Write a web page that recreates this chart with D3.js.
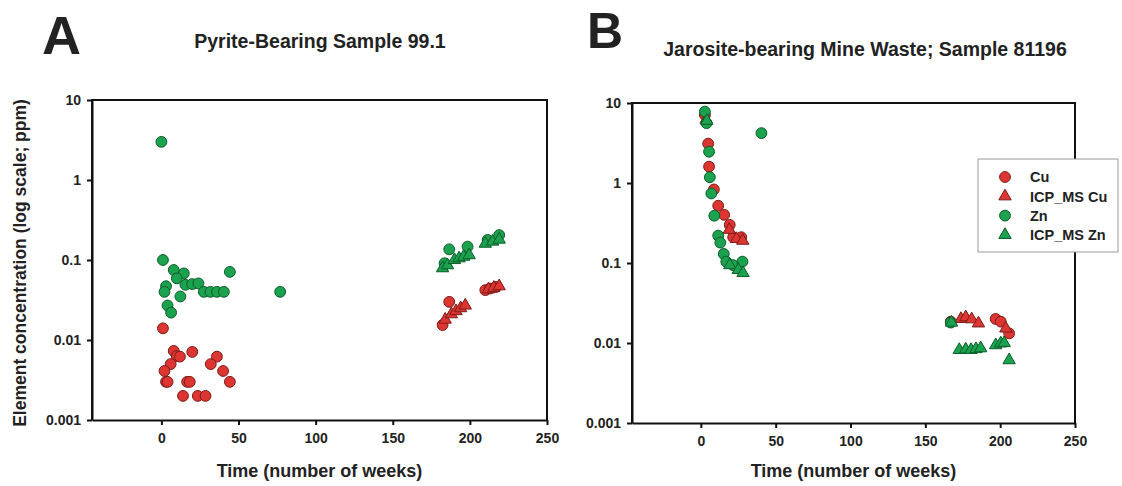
<!DOCTYPE html>
<meta charset="utf-8">
<script src="https://d3js.org/d3.v7.min.js"></script>
<style>
  body { margin: 0; background: #fff; }
  text { font-family: Arial, "Liberation Sans", sans-serif; font-weight: bold; fill: #222; }
</style>
<body>
<script>
// ---- data (weeks, ppm) ----
var yTicks = [0.001, 0.01, 0.1, 1, 10];
var yTickLabels = ["0.001", "0.01", "0.1", "1", "10"];
var xTicks = [0, 50, 100, 150, 200, 250];

// panel A: pyrite-bearing sample 99.1
var aCu = [[1,0.014],[8,0.0073],[10,0.0063],[12,0.0062],[20,0.0071],[36,0.0062],[32,0.005],[6,0.005],
  [2,0.0041],[40,0.0041],[3,0.003],[4,0.003],[16.7,0.003],[18.4,0.003],[44.4,0.003],[14,0.002],[23.6,0.002],[28.6,0.002],
  [182.3,0.0154],[186.6,0.030],[210,0.042],[213,0.044],[217,0.046]];
var aCuIcp = [[184,0.018],[188,0.021],[191,0.023],[194,0.025],[197,0.027],[212,0.043],[215.5,0.045],[219,0.047]];
var aZn = [[0,3.0],[1,0.1],[8,0.075],[14.5,0.068],[10,0.059],[3,0.047],[2,0.040],[15.6,0.049],[20,0.05],[24,0.051],
  [27.5,0.04],[31.8,0.04],[36,0.04],[40.5,0.04],[44.4,0.071],[12.3,0.035],[4,0.027],[6.3,0.022],[77,0.04],
  [183.6,0.091],[186.6,0.136],[198.5,0.147],[211.5,0.178],[219,0.205]];
var aZnIcp = [[182.3,0.079],[185.5,0.086],[190,0.1],[193,0.105],[196,0.11],[199.5,0.115],[210,0.16],[214.7,0.17],[219,0.18]];

// panel B: jarosite-bearing mine waste 81196
var bCu = [[2.7,7.1],[4.9,3.1],[5.5,1.6],[8.7,0.83],[11.6,0.52],[15.6,0.40],[19.3,0.30],[21.6,0.21],[27,0.21],
  [167,0.0185],[197,0.020],[200.4,0.0185],[206,0.0132]];
var bCuIcp = [[3.5,6.2],[19,0.26],[23.8,0.20],[28,0.19],[173.8,0.020],[177,0.021],[181,0.0198],[185.5,0.0176],[203.8,0.0152]];
var bZn = [[2.7,7.8],[3.8,5.6],[40.5,4.2],[5.5,2.46],[6,1.18],[7,0.74],[9,0.39],[11.6,0.22],[13,0.18],[15.3,0.13],
  [17,0.104],[21.6,0.094],[27.8,0.104],[167,0.018]];
var bZnIcp = [[4,6.0],[19.3,0.094],[25,0.082],[28.2,0.075],[167.5,0.018],[172.7,0.0082],[177,0.0083],[180.5,0.0082],
  [183.8,0.0084],[187,0.0086],[197,0.0094],[200.4,0.0099],[202.7,0.010],[206,0.0061]];

var legendLabels = ["Cu", "ICP_MS Cu", "Zn", "ICP_MS Zn"];

var red = {fill: "#dc3532", stroke: "#7c1c16"};
var green = {fill: "#1aa24e", stroke: "#0c5a2a"};

var svg = d3.select("body").append("svg")
    .attr("width", 1122)
    .attr("height", 486);

var circle = d3.symbol().type(d3.symbolCircle).size(92);
var triangle = d3.symbol().type(d3.symbolTriangle).size(66);

function panel(opts) {
  var x = d3.scaleLinear().domain([opts.xmin, 250]).range([opts.left, opts.right]);
  var y = d3.scaleLog().domain([0.001, 10]).range([opts.bottom, opts.top]);
  var g = svg.append("g");

  // frame
  g.append("path")
      .attr("fill", "none")
      .attr("stroke", "#111")
      .attr("stroke-width", 2)
      .attr("d", `M${opts.left},${opts.bottom}V${opts.top}H${opts.right}V${opts.bottom}`);

  g.append("g")
      .attr("transform", `translate(0,${opts.bottom})`)
      .call(d3.axisBottom(x).tickValues(xTicks).tickSize(5).tickSizeOuter(0).tickPadding(8))
      .call(a => a.select(".domain").attr("stroke", "#111").attr("stroke-width", 2))
      .call(a => a.selectAll(".tick line").attr("stroke", "#111").attr("stroke-width", 2))
      .call(a => a.selectAll("text").attr("font-size", 14).attr("font-family", null).attr("fill", null));

  g.append("g")
      .attr("transform", `translate(${opts.left},0)`)
      .call(d3.axisLeft(y).tickValues(yTicks).tickFormat((d, i) => yTickLabels[i]).tickSize(5).tickSizeOuter(0).tickPadding(6))
      .call(a => a.select(".domain").attr("stroke", "#111").attr("stroke-width", 2))
      .call(a => a.selectAll(".tick line").attr("stroke", "#111").attr("stroke-width", 2))
      .call(a => a.selectAll("text").attr("font-size", 14).attr("font-family", null).attr("fill", null));

  var series = [
    {data: opts.cu, sym: circle, col: red},
    {data: opts.cuIcp, sym: triangle, col: red},
    {data: opts.zn, sym: circle, col: green},
    {data: opts.znIcp, sym: triangle, col: green}
  ];
  series.forEach(s => {
    g.append("g").selectAll("path")
      .data(s.data)
      .join("path")
        .attr("transform", d => `translate(${x(d[0])},${y(d[1])})`)
        .attr("d", s.sym)
        .attr("fill", s.col.fill)
        .attr("stroke", s.col.stroke)
        .attr("stroke-width", 1);
  });

  g.append("text")
      .attr("x", (opts.left + opts.right) / 2)
      .attr("y", 477)
      .attr("text-anchor", "middle")
      .attr("font-size", 18)
      .text("Time (number of weeks)");

  g.append("text")
      .attr("x", opts.letterX)
      .attr("y", opts.letterY)
      .attr("font-size", opts.letterSize)
      .text(opts.letter);

  g.append("text")
      .attr("x", opts.titleX)
      .attr("y", opts.titleY)
      .attr("text-anchor", "middle")
      .attr("font-size", 19.5)
      .text(opts.title);
  return {x, y};
}

panel({left: 92, right: 547, top: 100, bottom: 420, xmin: -45,
  cu: aCu, cuIcp: aCuIcp, zn: aZn, znIcp: aZnIcp,
  letter: "A", letterX: 42, letterY: 54, letterSize: 54,
  title: "Pyrite-Bearing Sample 99.1", titleX: 320, titleY: 48});

panel({left: 632, right: 1075, top: 103, bottom: 423, xmin: -46,
  cu: bCu, cuIcp: bCuIcp, zn: bZn, znIcp: bZnIcp,
  letter: "B", letterX: 587, letterY: 48, letterSize: 50,
  title: "Jarosite-bearing Mine Waste; Sample 81196", titleX: 865, titleY: 56});

// y axis title (panel A only)
svg.append("text")
    .attr("transform", "translate(26,263) rotate(-90)")
    .attr("text-anchor", "middle")
    .attr("font-size", 17.5)
    .text("Element concentration (log scale; ppm)");

// legend
var legend = svg.append("g");
legend.append("rect")
    .attr("x", 978).attr("y", 159).attr("width", 140).attr("height", 93)
    .attr("fill", "#fff").attr("stroke", "#999").attr("stroke-width", 1);
var legendSyms = [circle, triangle, circle, triangle];
var legendCols = [red, red, green, green];
legend.selectAll("g.item")
  .data(legendLabels)
  .join("g")
    .attr("class", "item")
    .attr("transform", (d, i) => `translate(1005,${177 + i * 19.3})`)
    .call(g => g.append("path")
        .attr("d", (d, i) => legendSyms[i]())
        .attr("fill", (d, i) => legendCols[i].fill)
        .attr("stroke", (d, i) => legendCols[i].stroke))
    .call(g => g.append("text")
        .attr("x", 25)
        .attr("dy", "0.36em")
        .attr("font-size", 14.5)
        .text(d => d));
</script>
</body>
